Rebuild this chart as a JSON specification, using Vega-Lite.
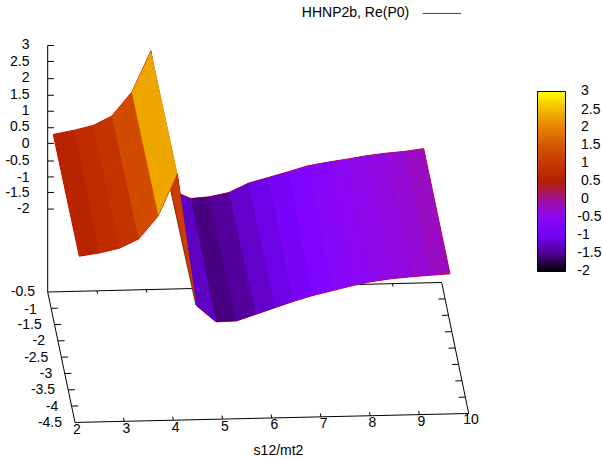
{"$schema":"https://vega.github.io/schema/vega-lite/v6.json","width":603,"height":458,"padding":0,"autosize":{"type":"fit","contains":"padding"},"background":"white","config":{"view":{"stroke":null}},
"datasets":{
"frame":[
{"s":"base","o":0,"x":75,"y":424.3},{"s":"base","o":1,"x":468.7,"y":415.3},{"s":"base","o":2,"x":441.7,"y":283.7},{"s":"base","o":3,"x":47.7,"y":293.3},{"s":"base","o":4,"x":75,"y":424.3},
{"s":"zaxis","o":0,"x":47.7,"y":293.3},{"s":"zaxis","o":1,"x":47.7,"y":45.7},
{"s":"z1","o":0,"x":47.7,"y":45.7},{"s":"z1","o":1,"x":54,"y":45.7},{"s":"z2","o":0,"x":47.7,"y":61.7},{"s":"z2","o":1,"x":54,"y":61.7},{"s":"z3","o":0,"x":47.7,"y":79},{"s":"z3","o":1,"x":54,"y":79},{"s":"z4","o":0,"x":47.7,"y":95.7},{"s":"z4","o":1,"x":54,"y":95.7},{"s":"z5","o":0,"x":47.7,"y":111.7},{"s":"z5","o":1,"x":54,"y":111.7},{"s":"z6","o":0,"x":47.7,"y":128.3},{"s":"z6","o":1,"x":54,"y":128.3},{"s":"z7","o":0,"x":47.7,"y":144},{"s":"z7","o":1,"x":54,"y":144},{"s":"z8","o":0,"x":47.7,"y":161.7},{"s":"z8","o":1,"x":54,"y":161.7},{"s":"z9","o":0,"x":47.7,"y":177.7},{"s":"z9","o":1,"x":54,"y":177.7},{"s":"z10","o":0,"x":47.7,"y":193.3},{"s":"z10","o":1,"x":54,"y":193.3},{"s":"z11","o":0,"x":47.7,"y":210},{"s":"z11","o":1,"x":54,"y":210},
{"s":"yl1","o":0,"x":51.1,"y":309.7},{"s":"yl1","o":1,"x":57.8,"y":309.5},{"s":"yl2","o":0,"x":54.5,"y":326},{"s":"yl2","o":1,"x":61.2,"y":325.8},{"s":"yl3","o":0,"x":57.9,"y":342.4},{"s":"yl3","o":1,"x":64.6,"y":342.2},{"s":"yl4","o":0,"x":61.3,"y":358.8},{"s":"yl4","o":1,"x":68,"y":358.6},{"s":"yl5","o":0,"x":64.8,"y":375.2},{"s":"yl5","o":1,"x":71.5,"y":375},{"s":"yl6","o":0,"x":68.2,"y":391.6},{"s":"yl6","o":1,"x":74.9,"y":391.4},{"s":"yl7","o":0,"x":71.6,"y":407.9},{"s":"yl7","o":1,"x":78.3,"y":407.7},
{"s":"yr1","o":0,"x":445.1,"y":300.2},{"s":"yr1","o":1,"x":438.4,"y":300.4},{"s":"yr2","o":0,"x":448.5,"y":316.6},{"s":"yr2","o":1,"x":441.8,"y":316.8},{"s":"yr3","o":0,"x":451.8,"y":333.1},{"s":"yr3","o":1,"x":445.1,"y":333.3},{"s":"yr4","o":0,"x":455.2,"y":349.5},{"s":"yr4","o":1,"x":448.5,"y":349.7},{"s":"yr5","o":0,"x":458.6,"y":365.9},{"s":"yr5","o":1,"x":451.9,"y":366.1},{"s":"yr6","o":0,"x":462,"y":382.4},{"s":"yr6","o":1,"x":455.3,"y":382.6},{"s":"yr7","o":0,"x":465.3,"y":398.9},{"s":"yr7","o":1,"x":458.6,"y":399.1},
{"s":"xn1","o":0,"x":124.2,"y":423.2},{"s":"xn1","o":1,"x":123.5,"y":419.7},{"s":"xn2","o":0,"x":173.4,"y":422},{"s":"xn2","o":1,"x":172.7,"y":418.5},{"s":"xn3","o":0,"x":222.6,"y":420.9},{"s":"xn3","o":1,"x":221.9,"y":417.4},{"s":"xn4","o":0,"x":271.8,"y":419.8},{"s":"xn4","o":1,"x":271.1,"y":416.3},{"s":"xn5","o":0,"x":321,"y":418.7},{"s":"xn5","o":1,"x":320.3,"y":415.2},{"s":"xn6","o":0,"x":370.2,"y":417.6},{"s":"xn6","o":1,"x":369.5,"y":414.1},{"s":"xn7","o":0,"x":419.4,"y":416.4},{"s":"xn7","o":1,"x":418.7,"y":412.9},
{"s":"xf1","o":0,"x":97,"y":292.1},{"s":"xf1","o":1,"x":97.6,"y":295.1},{"s":"xf2","o":0,"x":146.2,"y":290.9},{"s":"xf2","o":1,"x":146.8,"y":293.9},{"s":"xf3","o":0,"x":195.5,"y":289.7},{"s":"xf3","o":1,"x":196.1,"y":292.7},{"s":"xf4","o":0,"x":244.7,"y":288.5},{"s":"xf4","o":1,"x":245.3,"y":291.5},{"s":"xf5","o":0,"x":294,"y":287.3},{"s":"xf5","o":1,"x":294.6,"y":290.3},{"s":"xf6","o":0,"x":343.2,"y":286.1},{"s":"xf6","o":1,"x":343.8,"y":289.1},{"s":"xf7","o":0,"x":392.5,"y":284.9},{"s":"xf7","o":1,"x":393.1,"y":287.9}
],
"outline":[
{"s":"L","o":0,"x":53.3,"y":135},{"s":"L","o":1,"x":74.7,"y":130.7},{"s":"L","o":2,"x":93.3,"y":126},{"s":"L","o":3,"x":111.7,"y":116.7},{"s":"L","o":4,"x":131.7,"y":92.7},{"s":"L","o":5,"x":151,"y":51},{"s":"L","o":6,"x":171,"y":191},{"s":"L","o":7,"x":196.5,"y":307},{"s":"L","o":8,"x":177.3,"y":174.3},{"s":"L","o":9,"x":158.3,"y":216.7},{"s":"L","o":10,"x":138.7,"y":240},{"s":"L","o":11,"x":119.3,"y":249.3},{"s":"L","o":12,"x":99.3,"y":254},{"s":"L","o":13,"x":79.3,"y":257.3},{"s":"L","o":14,"x":53.3,"y":135},
{"s":"R","o":0,"x":171,"y":191},{"s":"R","o":1,"x":190.7,"y":199.3},{"s":"R","o":2,"x":209.3,"y":197.7},{"s":"R","o":3,"x":229,"y":193.3},{"s":"R","o":4,"x":248.3,"y":184},{"s":"R","o":5,"x":268.3,"y":178.3},{"s":"R","o":6,"x":288.3,"y":172.5},{"s":"R","o":7,"x":308,"y":166.5},{"s":"R","o":8,"x":327,"y":163},{"s":"R","o":9,"x":346,"y":160},{"s":"R","o":10,"x":366,"y":156.5},{"s":"R","o":11,"x":385,"y":154},{"s":"R","o":12,"x":405,"y":152},{"s":"R","o":13,"x":423.7,"y":149.3},{"s":"R","o":14,"x":450,"y":275},{"s":"R","o":15,"x":430,"y":276.5},{"s":"R","o":16,"x":411,"y":278},{"s":"R","o":17,"x":391,"y":280},{"s":"R","o":18,"x":371,"y":283},{"s":"R","o":19,"x":352,"y":287},{"s":"R","o":20,"x":332,"y":292},{"s":"R","o":21,"x":312,"y":297},{"s":"R","o":22,"x":293.3,"y":302.7},{"s":"R","o":23,"x":275,"y":309},{"s":"R","o":24,"x":256,"y":315.7},{"s":"R","o":25,"x":236.7,"y":322.3},{"s":"R","o":26,"x":216,"y":323.3},{"s":"R","o":27,"x":196.5,"y":307},{"s":"R","o":28,"x":171,"y":191}
],
"seam":[{"s":"g","o":0,"x":170.6,"y":191},{"s":"g","o":1,"x":195.6,"y":306.5}],
"quads":[
{"q":6,"o":0,"c":-1.3,"x":171,"y":191},{"q":6,"o":1,"c":-1.3,"x":190.7,"y":199.3},{"q":6,"o":2,"c":-1.3,"x":216,"y":323.3},{"q":6,"o":3,"c":-1.3,"x":196.5,"y":307},
{"q":7,"o":0,"c":-1.57,"x":190.7,"y":199.3},{"q":7,"o":1,"c":-1.57,"x":209.3,"y":197.7},{"q":7,"o":2,"c":-1.57,"x":236.7,"y":322.3},{"q":7,"o":3,"c":-1.57,"x":216,"y":323.3},
{"q":8,"o":0,"c":-1.47,"x":209.3,"y":197.7},{"q":8,"o":1,"c":-1.47,"x":229,"y":193.3},{"q":8,"o":2,"c":-1.47,"x":256,"y":315.7},{"q":8,"o":3,"c":-1.47,"x":236.7,"y":322.3},
{"q":9,"o":0,"c":-1.27,"x":229,"y":193.3},{"q":9,"o":1,"c":-1.27,"x":248.3,"y":184},{"q":9,"o":2,"c":-1.27,"x":275,"y":309},{"q":9,"o":3,"c":-1.27,"x":256,"y":315.7},
{"q":10,"o":0,"c":-1.08,"x":248.3,"y":184},{"q":10,"o":1,"c":-1.08,"x":268.3,"y":178.3},{"q":10,"o":2,"c":-1.08,"x":293.3,"y":302.7},{"q":10,"o":3,"c":-1.08,"x":275,"y":309},
{"q":11,"o":0,"c":-0.88,"x":268.3,"y":178.3},{"q":11,"o":1,"c":-0.88,"x":288.3,"y":172.5},{"q":11,"o":2,"c":-0.88,"x":312,"y":297},{"q":11,"o":3,"c":-0.88,"x":293.3,"y":302.7},
{"q":12,"o":0,"c":-0.72,"x":288.3,"y":172.5},{"q":12,"o":1,"c":-0.72,"x":308,"y":166.5},{"q":12,"o":2,"c":-0.72,"x":332,"y":292},{"q":12,"o":3,"c":-0.72,"x":312,"y":297},
{"q":13,"o":0,"c":-0.62,"x":308,"y":166.5},{"q":13,"o":1,"c":-0.62,"x":327,"y":163},{"q":13,"o":2,"c":-0.62,"x":352,"y":287},{"q":13,"o":3,"c":-0.62,"x":332,"y":292},
{"q":14,"o":0,"c":-0.53,"x":327,"y":163},{"q":14,"o":1,"c":-0.53,"x":346,"y":160},{"q":14,"o":2,"c":-0.53,"x":371,"y":283},{"q":14,"o":3,"c":-0.53,"x":352,"y":287},
{"q":15,"o":0,"c":-0.45,"x":346,"y":160},{"q":15,"o":1,"c":-0.45,"x":366,"y":156.5},{"q":15,"o":2,"c":-0.45,"x":391,"y":280},{"q":15,"o":3,"c":-0.45,"x":371,"y":283},
{"q":16,"o":0,"c":-0.38,"x":366,"y":156.5},{"q":16,"o":1,"c":-0.38,"x":385,"y":154},{"q":16,"o":2,"c":-0.38,"x":411,"y":278},{"q":16,"o":3,"c":-0.38,"x":391,"y":280},
{"q":17,"o":0,"c":-0.3,"x":385,"y":154},{"q":17,"o":1,"c":-0.3,"x":405,"y":152},{"q":17,"o":2,"c":-0.3,"x":430,"y":276.5},{"q":17,"o":3,"c":-0.3,"x":411,"y":278},
{"q":18,"o":0,"c":-0.2,"x":405,"y":152},{"q":18,"o":1,"c":-0.2,"x":423.7,"y":149.3},{"q":18,"o":2,"c":-0.2,"x":450,"y":275},{"q":18,"o":3,"c":-0.2,"x":430,"y":276.5},
{"q":5,"o":0,"c":1.1,"x":151,"y":51},{"q":5,"o":1,"c":1.1,"x":171,"y":191},{"q":5,"o":2,"c":1.1,"x":196.5,"y":307},{"q":5,"o":3,"c":1.1,"x":177.3,"y":174.3},
{"q":0,"o":0,"c":0.6,"x":53.3,"y":135},{"q":0,"o":1,"c":0.6,"x":74.7,"y":130.7},{"q":0,"o":2,"c":0.6,"x":99.3,"y":254},{"q":0,"o":3,"c":0.6,"x":79.3,"y":257.3},
{"q":1,"o":0,"c":0.78,"x":74.7,"y":130.7},{"q":1,"o":1,"c":0.78,"x":93.3,"y":126},{"q":1,"o":2,"c":0.78,"x":119.3,"y":249.3},{"q":1,"o":3,"c":0.78,"x":99.3,"y":254},
{"q":2,"o":0,"c":0.92,"x":93.3,"y":126},{"q":2,"o":1,"c":0.92,"x":111.7,"y":116.7},{"q":2,"o":2,"c":0.92,"x":138.7,"y":240},{"q":2,"o":3,"c":0.92,"x":119.3,"y":249.3},
{"q":3,"o":0,"c":1.33,"x":111.7,"y":116.7},{"q":3,"o":1,"c":1.33,"x":131.7,"y":92.7},{"q":3,"o":2,"c":1.33,"x":158.3,"y":216.7},{"q":3,"o":3,"c":1.33,"x":138.7,"y":240},
{"q":4,"o":0,"c":2.32,"x":131.7,"y":92.7},{"q":4,"o":1,"c":2.32,"x":151,"y":51},{"q":4,"o":2,"c":2.32,"x":177.3,"y":174.3},{"q":4,"o":3,"c":2.32,"x":158.3,"y":216.7}
],
"barticks":[
{"s":"l1","o":0,"x":537.7,"y":109},{"s":"l1","o":1,"x":543.7,"y":109},{"s":"r1","o":0,"x":559.3,"y":109},{"s":"r1","o":1,"x":565.3,"y":109},
{"s":"l2","o":0,"x":537.7,"y":127.3},{"s":"l2","o":1,"x":543.7,"y":127.3},{"s":"r2","o":0,"x":559.3,"y":127.3},{"s":"r2","o":1,"x":565.3,"y":127.3},
{"s":"l3","o":0,"x":537.7,"y":145.5},{"s":"l3","o":1,"x":543.7,"y":145.5},{"s":"r3","o":0,"x":559.3,"y":145.5},{"s":"r3","o":1,"x":565.3,"y":145.5},
{"s":"l4","o":0,"x":537.7,"y":163.5},{"s":"l4","o":1,"x":543.7,"y":163.5},{"s":"r4","o":0,"x":559.3,"y":163.5},{"s":"r4","o":1,"x":565.3,"y":163.5},
{"s":"l5","o":0,"x":537.7,"y":181},{"s":"l5","o":1,"x":543.7,"y":181},{"s":"r5","o":0,"x":559.3,"y":181},{"s":"r5","o":1,"x":565.3,"y":181},
{"s":"l6","o":0,"x":537.7,"y":199.3},{"s":"l6","o":1,"x":543.7,"y":199.3},{"s":"r6","o":0,"x":559.3,"y":199.3},{"s":"r6","o":1,"x":565.3,"y":199.3},
{"s":"l7","o":0,"x":537.7,"y":217.5},{"s":"l7","o":1,"x":543.7,"y":217.5},{"s":"r7","o":0,"x":559.3,"y":217.5},{"s":"r7","o":1,"x":565.3,"y":217.5},
{"s":"l8","o":0,"x":537.7,"y":235.5},{"s":"l8","o":1,"x":543.7,"y":235.5},{"s":"r8","o":0,"x":559.3,"y":235.5},{"s":"r8","o":1,"x":565.3,"y":235.5},
{"s":"l9","o":0,"x":537.7,"y":253.5},{"s":"l9","o":1,"x":543.7,"y":253.5},{"s":"r9","o":0,"x":559.3,"y":253.5},{"s":"r9","o":1,"x":565.3,"y":253.5}
],
"keyline":[{"s":"k","o":0,"x":422.7,"y":13.5},{"s":"k","o":1,"x":461,"y":13.5}],
"rightlabels":[
{"t":"3","x":29.5,"y":45},{"t":"2.5","x":29.5,"y":62.7},{"t":"2","x":29.5,"y":78.3},{"t":"1.5","x":29.5,"y":95.7},{"t":"1","x":29.5,"y":111.7},{"t":"0.5","x":29.5,"y":127.7},{"t":"0","x":29.5,"y":145},{"t":"-0.5","x":29.5,"y":161.7},{"t":"-1","x":29.5,"y":178.3},{"t":"-1.5","x":29.5,"y":194.3},{"t":"-2","x":29.5,"y":210},
{"t":"-0.5","x":35,"y":293},{"t":"-1","x":36.7,"y":311},{"t":"-1.5","x":41.7,"y":326.7},{"t":"-2","x":45,"y":342},{"t":"-2.5","x":48.3,"y":359.3},{"t":"-3","x":52.3,"y":375.7},{"t":"-3.5","x":55,"y":391.7},{"t":"-4","x":58.3,"y":409},{"t":"-4.5","x":62,"y":425}
],
"centerlabels":[
{"t":"2","x":77,"y":431.7},{"t":"3","x":126.3,"y":431},{"t":"4","x":175.7,"y":430},{"t":"5","x":225,"y":428.8},{"t":"6","x":274.3,"y":427.3},{"t":"7","x":323.7,"y":426},{"t":"8","x":372.3,"y":425},{"t":"9","x":421.3,"y":424},{"t":"10","x":471,"y":422.3},
{"t":"s12/mt2","x":278.5,"y":452.7},{"t":"HHNP2b, Re(P0)","x":355.5,"y":13.5}
],
"barlabels":[
{"t":"3","x":581,"y":91.7},{"t":"2.5","x":581,"y":110},{"t":"2","x":581,"y":127.7},{"t":"1.5","x":581,"y":145.7},{"t":"1","x":581,"y":163.3},{"t":"0.5","x":581,"y":181.7},{"t":"0","x":581,"y":200},{"t":"-0.5","x":577.3,"y":217.5},{"t":"-1","x":577.3,"y":235.7},{"t":"-1.5","x":577.3,"y":254},{"t":"-2","x":577.3,"y":271.7}
]
},
"encoding":{
"x":{"field":"x","type":"quantitative","scale":{"domain":[0,603],"nice":false,"zero":false},"axis":null},
"y":{"field":"y","type":"quantitative","scale":{"domain":[458,0],"nice":false,"zero":false},"axis":null}
},
"layer":[
{"data":{"name":"frame"},"mark":{"type":"line","stroke":"#000000","strokeWidth":1},"encoding":{"detail":{"field":"s"},"order":{"field":"o","type":"quantitative"}}},
{"data":{"name":"seam"},"mark":{"type":"line","stroke":"#30d030","strokeWidth":0.8},"encoding":{"detail":{"field":"s"},"order":{"field":"o","type":"quantitative"}}},
{"data":{"name":"outline"},"transform":[{"filter":{"field":"s","equal":"R"}}],"mark":{"type":"line","stroke":"#e00000","strokeWidth":1,"fill":"#7000e0"},"encoding":{"detail":{"field":"s"},"order":{"field":"o","type":"quantitative"}}},
{"data":{"name":"outline"},"transform":[{"filter":{"field":"s","equal":"L"}}],"mark":{"type":"line","stroke":"#e00000","strokeWidth":1,"fill":"#c03000"},"encoding":{"detail":{"field":"s"},"order":{"field":"o","type":"quantitative"}}},
{"data":{"name":"quads"},"mark":{"type":"line","strokeWidth":0,"strokeOpacity":0},"encoding":{"detail":{"field":"q"},"order":{"field":"o","type":"quantitative"},
"fill":{"field":"c","type":"quantitative","scale":{"interpolate":"rgb","domain":[-2,-1.75,-1.5,-1.25,-1,-0.75,-0.5,-0.25,0,0.25,0.5,0.75,1,1.25,1.5,1.75,2,2.25,2.5,2.75,3],"range":["#000000","#390050","#510096","#6301ce","#7202f3","#8004ff","#8c07f3","#970bce","#a11096","#ab1750","#b42000","#bd2a00","#c63700","#ce4600","#d55700","#dd6c00","#e48300","#eb9d00","#f2ba00","#f9db00","#ffff00"]},
"legend":{"title":null,"orient":"none","legendX":537.5,"legendY":91.5,"gradientLength":180,"gradientThickness":28,"gradientStrokeColor":"#000000","gradientStrokeWidth":1,"values":[-2,-1.5,-1,-0.5,0,0.5,1,1.5,2,2.5,3],"labelExpr":"''","labelOverlap":false,"padding":0}}}},
{"data":{"name":"barticks"},"mark":{"type":"line","stroke":"#000000","strokeWidth":1,"opacity":0.8},"encoding":{"detail":{"field":"s"},"order":{"field":"o","type":"quantitative"}}},
{"data":{"name":"keyline"},"mark":{"type":"line","stroke":"#e00000","strokeWidth":1},"encoding":{"detail":{"field":"s"},"order":{"field":"o","type":"quantitative"}}},
{"data":{"name":"rightlabels"},"mark":{"type":"text","align":"right","baseline":"middle","font":"Liberation Sans","fontSize":14,"color":"#000000"},"encoding":{"text":{"field":"t"}}},
{"data":{"name":"centerlabels"},"mark":{"type":"text","align":"center","baseline":"middle","font":"Liberation Sans","fontSize":14,"color":"#000000"},"encoding":{"text":{"field":"t"}}},
{"data":{"name":"barlabels"},"mark":{"type":"text","align":"left","baseline":"middle","font":"Liberation Sans","fontSize":14,"color":"#000000"},"encoding":{"text":{"field":"t"}}}
]}
